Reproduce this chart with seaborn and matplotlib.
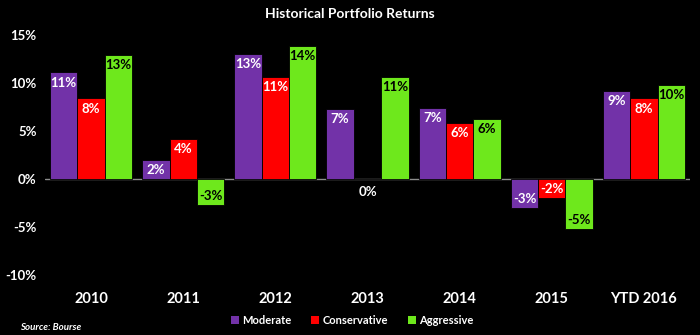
import matplotlib
matplotlib.use("Agg")
import matplotlib.pyplot as plt
import seaborn as sns
import pandas as pd
from matplotlib.patches import Patch

categories = ["2010", "2011", "2012", "2013", "2014", "2015", "YTD 2016"]
series = ["Moderate", "Conservative", "Aggressive"]
moderate = [11.1, 2.0, 13.0, 7.3, 7.4, -3.0, 9.2]
conservative = [8.4, 4.2, 10.6, 0.0, 5.8, -2.0, 8.4]
aggressive = [12.9, -2.7, 13.9, 10.6, 6.3, -5.2, 9.8]
labels_mod = ["11%", "2%", "13%", "7%", "7%", "-3%", "9%"]
labels_con = ["8%", "4%", "11%", "0%", "6%", "-2%", "8%"]
labels_agg = ["13%", "-3%", "14%", "11%", "6%", "-5%", "10%"]
yticks = [-10, -5, 0, 5, 10, 15]

colors = {"Moderate": "#7232A8", "Conservative": "#FF0000", "Aggressive": "#6EE81C"}
text_colors = {"Moderate": "white", "Conservative": "white", "Aggressive": "black"}

rows = []
for s, vals in zip(series, [moderate, conservative, aggressive]):
    for c, v in zip(categories, vals):
        rows.append({"Year": c, "Series": s, "Return": v})
df = pd.DataFrame(rows)

sns.set_style("dark")
plt.rcParams["font.family"] = ["Lato", "DejaVu Sans"]

fig = plt.figure(figsize=(7, 3.35), dpi=100, facecolor="black")
ax = fig.add_axes([45 / 700, 1 - 275 / 335, 645 / 700, 240 / 335])
ax.set_facecolor("black")

sns.barplot(data=df, x="Year", y="Return", hue="Series", order=categories,
            hue_order=series, palette=colors, width=0.89, ax=ax,
            errorbar=None, legend=False, saturation=1, edgecolor="black",
            linewidth=0.6)

all_labels = [labels_mod, labels_con, labels_agg]
for cont, s, labs in zip(ax.containers, series, all_labels):
    for bar, lab in zip(cont, labs):
        h = bar.get_height()
        xc = bar.get_x() + bar.get_width() / 2
        if h > 0:
            ax.annotate(lab, (xc, h), xytext=(0, -3), textcoords="offset points",
                        ha="center", va="top", color=text_colors[s],
                        fontsize=9.5, fontweight="bold")
        elif h < 0:
            ax.annotate(lab, (xc, h), xytext=(0, 2), textcoords="offset points",
                        ha="center", va="bottom", color=text_colors[s],
                        fontsize=9.5, fontweight="bold")
        else:
            ax.annotate(lab, (xc, h), xytext=(0, -5), textcoords="offset points",
                        ha="center", va="top", color="white",
                        fontsize=9.5, fontweight="bold")

ax.set_ylim(-10, 15)
ax.set_yticks(yticks)
ax.set_yticklabels([f"{t}%" for t in yticks], color="white", fontsize=9.5,
                   fontweight="bold")
ax.set_xlim(-0.5, len(categories) - 0.5)
ax.set_xticks(range(len(categories)))
ax.set_xticklabels(categories, color="white", fontsize=10.5, fontweight="bold")
ax.tick_params(axis="both", length=0)
ax.tick_params(axis="x", pad=12)
ax.tick_params(axis="y", pad=6)
ax.set_xlabel("")
ax.set_ylabel("")
ax.grid(False)
for sp in ax.spines.values():
    sp.set_visible(False)
ax.axhline(0, color="#8C8C8C", lw=1, zorder=0.5)

fig.text(0.5, 1 - 14 / 335, "Historical Portfolio Returns", ha="center", va="center",
         color="white", fontsize=10, fontweight="bold")

handles = [Patch(facecolor=colors[s], edgecolor="none", label=s) for s in series]
leg = fig.legend(handles=handles, loc="center", bbox_to_anchor=(352 / 700, 1 - 320 / 335),
                 ncol=3, frameon=False, fontsize=8, handlelength=0.7, handleheight=0.7,
                 handletextpad=0.3, columnspacing=1.8)
for t in leg.get_texts():
    t.set_color("white")
    t.set_fontweight("bold")

fig.text(20 / 700, 1 - 328 / 335, "Source: Bourse", ha="left", va="center",
         color="white", fontsize=7, fontweight="bold", style="italic")

fig.savefig("out.png", dpi=100, facecolor="black")
